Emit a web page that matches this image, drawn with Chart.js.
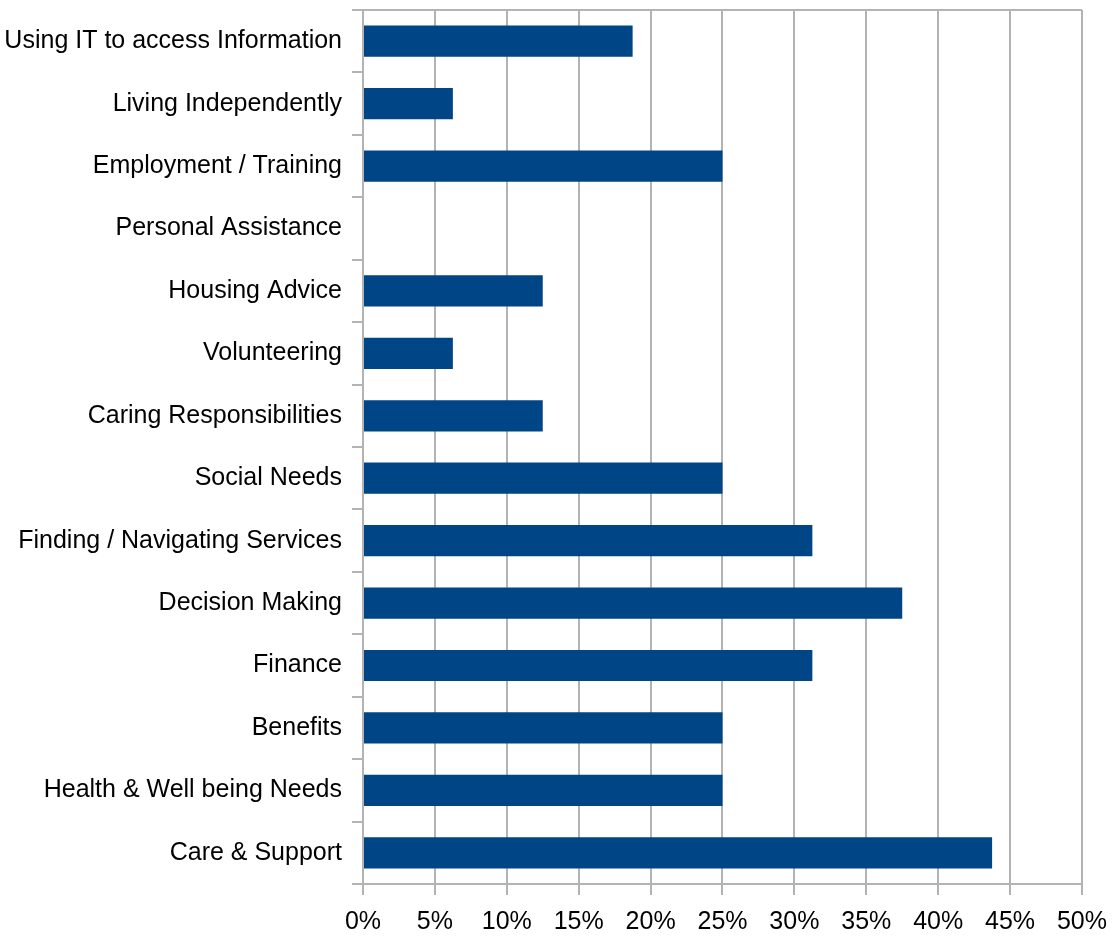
<!DOCTYPE html>
<html>
<head>
<meta charset="utf-8">
<script src="https://cdn.jsdelivr.net/npm/chart.js@4/dist/chart.umd.min.js"></script>
<style>
  html, body { margin: 0; padding: 0; background: #fff; }
  #wrap { width: 1119px; height: 937px; }
</style>
</head>
<body>
<div id="wrap"><canvas id="needsChart"></canvas></div>
<script>
const categories = [
    'Using IT to access Information',
    'Living Independently',
    'Employment / Training',
    'Personal Assistance',
    'Housing Advice',
    'Volunteering',
    'Caring Responsibilities',
    'Social Needs',
    'Finding / Navigating Services',
    'Decision Making',
    'Finance',
    'Benefits',
    'Health & Well being Needs',
    'Care & Support',
];
const percentages = [18.75, 6.25, 25, 0, 12.5, 6.25, 12.5, 25, 31.25, 37.5, 31.25, 25, 25, 43.75];
const xTicks = [0, 5, 10, 15, 20, 25, 30, 35, 40, 45, 50];

const gridGrey = '#b3b3b3';
const labelFont = { family: "'Liberation Sans', Arial, sans-serif", size: 25 };

const ctx = document.getElementById('needsChart').getContext('2d');
new Chart(ctx, {
    type: 'bar',
    data: {
        labels: categories,
        datasets: [
            {
                label: 'Share',
                data: percentages,
                backgroundColor: '#004586',
                borderWidth: 0,
                barPercentage: 1,
                categoryPercentage: 0.5,
            }
        ],
    },
    options: {
        indexAxis: 'y',
        responsive: true,
        maintainAspectRatio: false,
        animation: false,
        layout: { padding: { top: 10, right: 36, left: 0, bottom: 0 } },
        plugins: {
            legend: { display: false },
            tooltip: { enabled: false },
        },
        scales: {
            x: {
                min: 0,
                max: 50,
                afterBuildTicks: (scale) => {
                    scale.ticks = xTicks.map(v => ({ value: v }));
                },
                afterFit: (scale) => { scale.height = 53; },
                ticks: {
                    callback: (v) => v + '%',
                    color: '#000',
                    font: labelFont,
                    padding: 12,
                    maxRotation: 0,
                },
                grid: {
                    color: gridGrey,
                    lineWidth: 2,
                    tickLength: 11,
                    tickColor: gridGrey,
                },
                border: { color: gridGrey, width: 2 },
            },
            y: {
                afterFit: (scale) => {
                    // labels sit inside their bands, so no extra room above/below
                    scale.width = 363;
                    scale.paddingTop = 0;
                    scale.paddingBottom = 0;
                },
                ticks: {
                    color: '#000',
                    font: labelFont,
                    padding: 10,
                    autoSkip: false,
                },
                grid: {
                    offset: true,
                    lineWidth: 2,
                    tickLength: 11,
                    tickColor: gridGrey,
                    color: (c) => (c.index === 0 ? gridGrey : 'rgba(0,0,0,0)'),
                },
                border: { color: gridGrey, width: 2 },
            },
        },
    },
});
</script>
</body>
</html>
